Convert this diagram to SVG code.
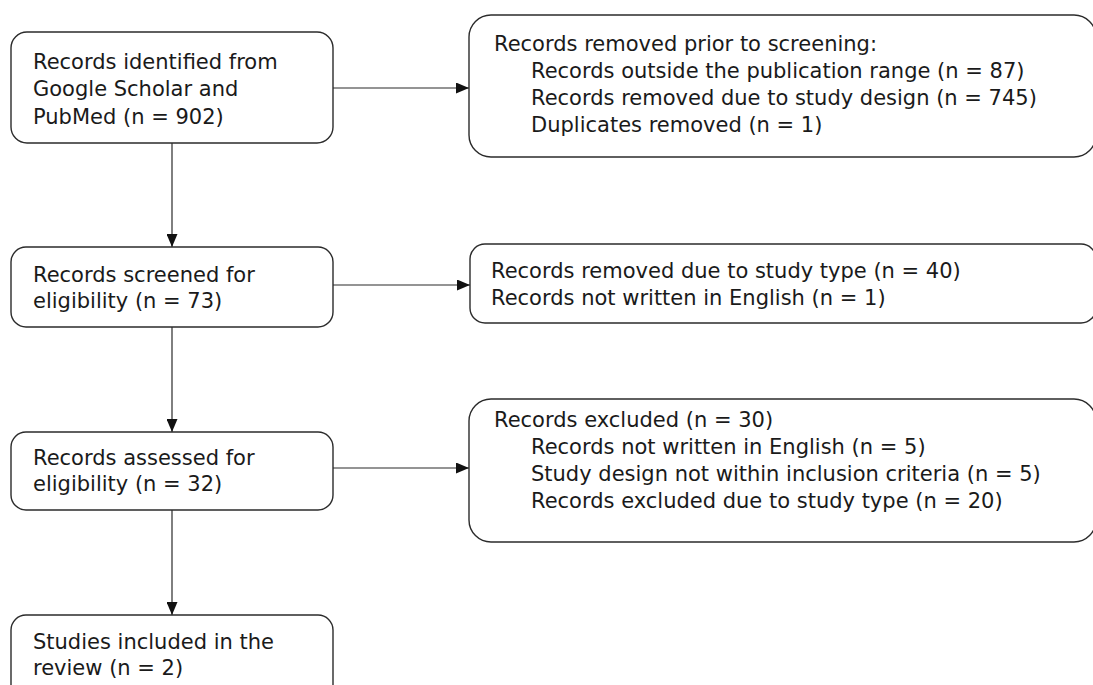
<svg xmlns="http://www.w3.org/2000/svg" width="1093" height="685" viewBox="0 0 1093 685">
<defs>
<style>
.box{fill:#fff;stroke:#2b2b2b;stroke-width:1.4}
.t{font-family:"DejaVu Sans",sans-serif;font-size:21px;fill:#1a1a1a}
.ln{stroke:#2b2b2b;stroke-width:1.2;fill:none}
</style>
<marker id="ah" viewBox="0 0 13 11" refX="13" refY="5.5" markerWidth="13" markerHeight="11" markerUnits="userSpaceOnUse" orient="auto">
<path d="M0,0 L13,5.5 L0,11 Z" fill="#111"/>
</marker>
</defs>
<rect width="1093" height="685" fill="#fff"/>
<g id="connectors">
<line class="ln" x1="333" y1="88" x2="469" y2="88" marker-end="url(#ah)"/>
<line class="ln" x1="172" y1="143" x2="172" y2="247" marker-end="url(#ah)"/>
<line class="ln" x1="333" y1="285" x2="470" y2="285" marker-end="url(#ah)"/>
<line class="ln" x1="172" y1="327" x2="172" y2="432" marker-end="url(#ah)"/>
<line class="ln" x1="333" y1="468" x2="469" y2="468" marker-end="url(#ah)"/>
<line class="ln" x1="172" y1="510" x2="172" y2="615" marker-end="url(#ah)"/>
</g>
<g id="n1">
<rect class="box" x="11" y="32" width="322" height="111" rx="16"/>
<text class="t" x="33" y="68.5">Records identified from</text>
<text class="t" x="33" y="96">Google Scholar and</text>
<text class="t" x="33" y="123.5">PubMed (n = 902)</text>
</g>
<g id="n2">
<rect class="box" x="469" y="15" width="627" height="142" rx="22"/>
<text class="t" x="494" y="50.5">Records removed prior to screening:</text>
<text class="t" x="531" y="77.5">Records outside the publication range (n = 87)</text>
<text class="t" x="531" y="104.5">Records removed due to study design (n = 745)</text>
<text class="t" x="531" y="131.5">Duplicates removed (n = 1)</text>
</g>
<g id="n3">
<rect class="box" x="11" y="247" width="322" height="80" rx="15"/>
<text class="t" x="33" y="282">Records screened for</text>
<text class="t" x="33" y="308">eligibility (n = 73)</text>
</g>
<g id="n4">
<rect class="box" x="470" y="244" width="626" height="79" rx="15"/>
<text class="t" x="491" y="278">Records removed due to study type (n = 40)</text>
<text class="t" x="491" y="305">Records not written in English (n = 1)</text>
</g>
<g id="n5">
<rect class="box" x="11" y="432" width="322" height="78" rx="15"/>
<text class="t" x="33" y="465">Records assessed for</text>
<text class="t" x="33" y="491">eligibility (n = 32)</text>
</g>
<g id="n6">
<rect class="box" x="469" y="399" width="627" height="143" rx="22"/>
<text class="t" x="494" y="427">Records excluded (n = 30)</text>
<text class="t" x="531" y="454">Records not written in English (n = 5)</text>
<text class="t" x="531" y="481">Study design not within inclusion criteria (n = 5)</text>
<text class="t" x="531" y="508">Records excluded due to study type (n = 20)</text>
</g>
<g id="n7">
<rect class="box" x="11" y="615" width="322" height="90" rx="15"/>
<text class="t" x="33" y="649">Studies included in the</text>
<text class="t" x="33" y="675">review (n = 2)</text>
</g>
</svg>
